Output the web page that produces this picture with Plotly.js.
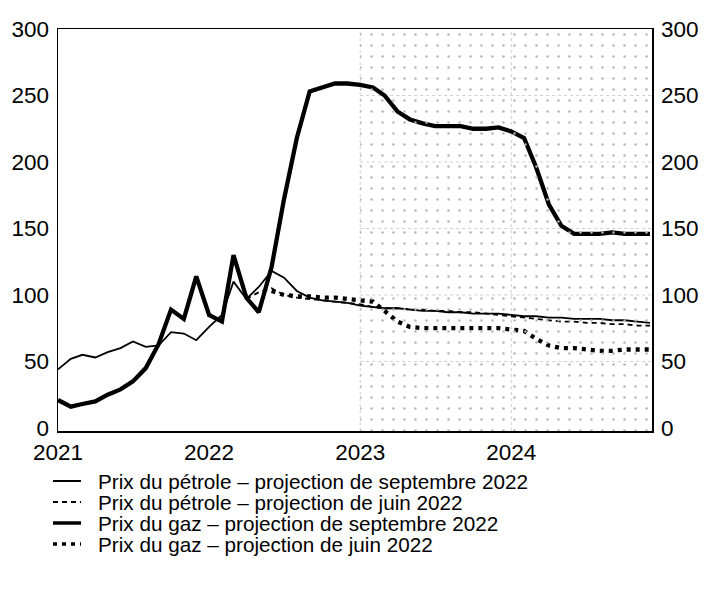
<!DOCTYPE html>
<html><head><meta charset="utf-8">
<script src="https://cdn.plot.ly/plotly-3.0.1.min.js"></script>
<style>html,body{margin:0;padding:0;background:#fff}</style>
</head><body><div id="chart" style="width:705px;height:598px"></div>
<script>
// Monthly dates Jan 2021 - Dec 2024
const months = [];
for (let y = 2021; y <= 2024; y++) {
  for (let m = 1; m <= 12; m++) months.push(y + '-' + String(m).padStart(2, '0') + '-01');
}

const seriesNames = [
  'Prix du pétrole – projection de septembre 2022',
  'Prix du pétrole – projection de juin 2022',
  'Prix du gaz – projection de septembre 2022',
  'Prix du gaz – projection de juin 2022'
];

const oilSept = [44, 52, 55, 53, 57, 60, 65, 61, 62, 72, 71, 66,
                 76, 85, 110, 97, 106, 118, 113, 103, 98, 96, 95, 94,
                 92, 91, 90, 90, 89, 88, 88, 87, 87, 86, 86, 86,
                 85, 84, 84, 83, 83, 82, 82, 82, 81, 81, 80, 79];

const oilJune = [null, null, null, null, null, null, null, null, null, null, null, null,
                 null, null, null, 97, 102, 105, 100, 98, 97, 96, 95, 94,
                 93, 91, 90, 90, 89, 89, 88, 88, 87, 87, 86, 85,
                 84, 83, 82, 81, 80, 80, 79, 79, 78, 78, 77, 77];

const gasSept = [21, 16, 18, 20, 25, 29, 35, 45, 63, 89, 82, 114,
                 85, 80, 130, 98, 87, 121, 172, 218, 253, 256, 259, 259,
                 258, 256, 250, 238, 232, 229, 227, 227, 227, 225, 225, 226,
                 223, 218, 196, 168, 152, 146, 146, 146, 147, 146, 146, 146];

const gasJune = [null, null, null, null, null, null, null, null, null, null, null, null,
                 null, null, null, null, null, 103, 100, 99, 99, 98, 98, 97,
                 96, 95, 88, 80, 76, 75, 75, 75, 75, 75, 75, 75,
                 74, 73, 67, 62, 60, 60, 59, 58, 58, 59, 59, 59];

const yearTicks = ['2021-01-01', '2022-01-01', '2023-01-01', '2024-01-01'];
const yearLabels = ['2021', '2022', '2023', '2024'];
const yTicks = [0, 50, 100, 150, 200, 250, 300];
const projectionStart = '2023-01-01';

const X_RANGE = ['2021-01-01', '2024-12-06'];
const Y_RANGE = [-2.3, 300];
const FONT = 'Liberation Sans, Arial, sans-serif';
const TICK_SIZE = 22.5;

const styles = [
  {color: '#000', width: 1.8, dash: 'solid'},
  {color: '#000', width: 1.8, dash: '5px,4px'},
  {color: '#000', width: 4.3, dash: 'solid'},
  {color: '#000', width: 4.3, dash: '4px,5px'}
];
const values = [oilSept, oilJune, gasSept, gasJune];

// projection period area (on y2 so that the right axis is drawn)
const traces = [{
  x: [projectionStart, X_RANGE[1], X_RANGE[1], projectionStart],
  y: [Y_RANGE[0], Y_RANGE[0], Y_RANGE[1], Y_RANGE[1]],
  yaxis: 'y2',
  type: 'scatter', mode: 'lines', fill: 'toself',
  line: {width: 0}, fillcolor: 'rgba(0,0,0,0)',
  fillpattern: {shape: '.', fgcolor: '#b4b4b4', bgcolor: 'rgba(0,0,0,0)', size: 11, solidity: 0.04},
  hoverinfo: 'skip', showlegend: false
}];
values.forEach((v, i) => traces.push({
  x: months, y: v, type: 'scatter', mode: 'lines', name: seriesNames[i],
  line: styles[i], showlegend: false, connectgaps: false
}));

// Plot area geometry (px) for manual legend
const L = 58, R = 652, T = 29, B = 431;
const px2x = p => (p - L) / (R - L);
const px2y = p => (B - p) / (B - T);
const legendRows = [481, 502, 523, 544];
const legendWidths = [2, 2, 3.5, 3.5];

const shapes = [];
[50, 100, 150, 200, 250].forEach(v => shapes.push({
  type: 'line', xref: 'x', yref: 'y', x0: projectionStart, x1: X_RANGE[1], y0: v, y1: v,
  line: {color: '#cfcfcf', width: 1, dash: 'dot'}, layer: 'below'
}));
['2023-01-01', '2024-01-01'].forEach(d => shapes.push({
  type: 'line', xref: 'x', yref: 'y', x0: d, x1: d, y0: Y_RANGE[0], y1: Y_RANGE[1],
  line: {color: '#cfcfcf', width: 1, dash: 'dot'}, layer: 'below'
}));
const annotations = [];
seriesNames.forEach((n, i) => {
  shapes.push({
    type: 'line', xref: 'paper', yref: 'paper',
    x0: px2x(53), x1: px2x(81), y0: px2y(legendRows[i]), y1: px2y(legendRows[i]),
    line: {color: '#000', width: legendWidths[i], dash: styles[i].dash}
  });
  annotations.push({
    xref: 'paper', yref: 'paper', x: px2x(96), y: px2y(legendRows[i]),
    xanchor: 'left', yanchor: 'middle', showarrow: false, text: n,
    font: {family: FONT, size: 20.7, color: '#000'}
  });
});

const layout = {
  width: 705, height: 598,
  margin: {l: L, r: 705 - R, t: T, b: 598 - B},
  paper_bgcolor: '#fff', plot_bgcolor: '#fff',
  showlegend: false,
  font: {family: FONT, size: TICK_SIZE, color: '#000'},
  xaxis: {
    type: 'date', range: X_RANGE, tickvals: yearTicks, ticktext: yearLabels,
    showgrid: false, zeroline: false, showline: true, linecolor: '#000', linewidth: 1.5,
    mirror: true, ticks: '', ticklabelstandoff: 0,
    tickfont: {family: FONT, size: TICK_SIZE, color: '#000'}
  },
  yaxis: {
    range: Y_RANGE, tickvals: yTicks, showgrid: false, zeroline: false,
    showline: true, linecolor: '#000', linewidth: 1.5, mirror: true,
    ticks: '', ticklabelstandoff: 3,
    tickfont: {family: FONT, size: TICK_SIZE, color: '#000'}
  },
  yaxis2: {
    range: Y_RANGE, tickvals: yTicks, overlaying: 'y', side: 'right',
    showgrid: false, zeroline: false, showline: false, ticks: '', ticklabelstandoff: 8,
    tickfont: {family: FONT, size: TICK_SIZE, color: '#000'}
  },
  shapes: shapes,
  annotations: annotations
};

Plotly.newPlot('chart', traces, layout, {displayModeBar: false, staticPlot: true});
</script></body></html>
